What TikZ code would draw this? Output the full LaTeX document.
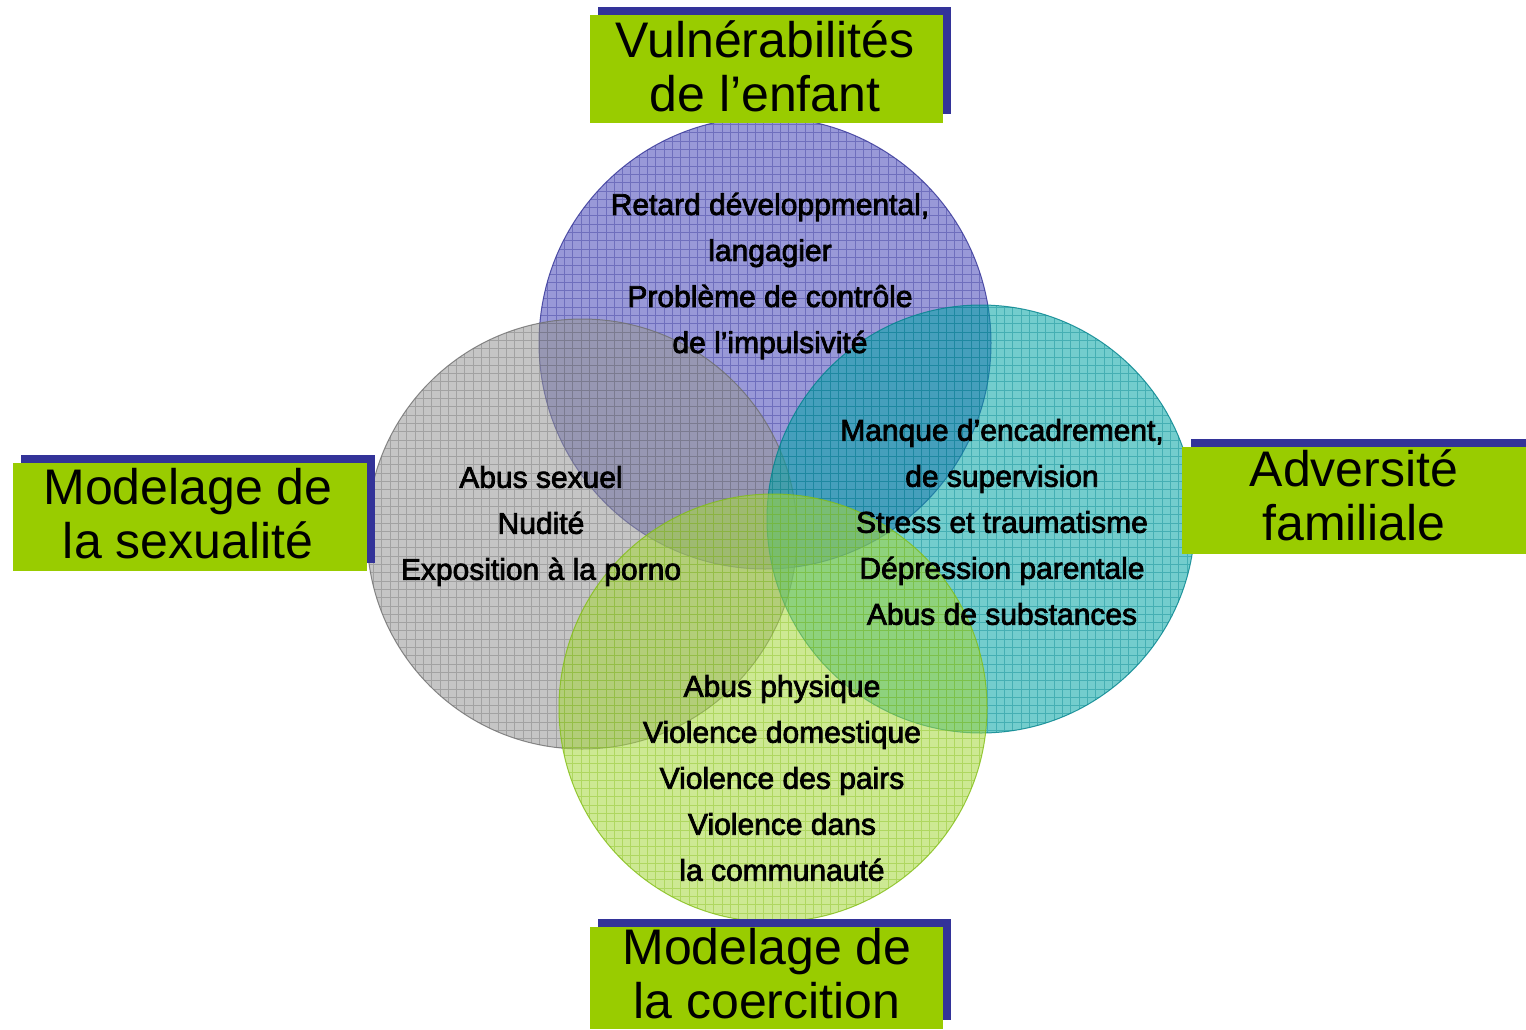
\documentclass[tikz,border=0pt]{standalone}
\usepackage{fontspec}
\setmainfont{Liberation Sans}
\newfontfamily\bodyfont[FakeBold=2.5]{Liberation Sans}
\definecolor{shadowblue}{RGB}{51,51,153}
\definecolor{boxgreen}{RGB}{153,204,0}
\definecolor{cpurple}{RGB}{70,70,185}
\definecolor{cgray}{RGB}{150,150,150}
\definecolor{cteal}{RGB}{0,165,165}
\definecolor{cgreen}{RGB}{165,215,60}
\definecolor{gpurple}{RGB}{50,50,150}
\definecolor{ggray}{RGB}{110,110,110}
\definecolor{gteal}{RGB}{0,130,140}
\definecolor{ggreen}{RGB}{130,190,20}
\tikzset{
  shadowrect/.style={fill=shadowblue, draw=none},
  greenrect/.style={fill=boxgreen, draw=none},
  titletext/.style={align=center, inner sep=0pt, font=\fontsize{50}{54}\selectfont},
  bodytext/.style={align=center, inner sep=0pt, font=\bodyfont\fontsize{30}{46}\selectfont},
}
\newcommand{\meshdisc}[5]{%
  \begin{scope}
    \clip (#1,#2) circle (#3);
    \fill[#4, opacity=0.55] (#1-#3,#2-#3) rectangle (#1+#3,#2+#3);
    \draw[#5, opacity=0.4, line width=0.8pt, step=8.3pt] (#1-#3-1,#2+#3+1) grid (#1+#3+1,#2-#3-1);
  \end{scope}
  \draw[#5, opacity=0.8, line width=1pt] (#1,#2) circle (#3);
}
\begin{document}
\begin{tikzpicture}[x=1pt,y=-1pt]
\useasboundingbox (0,0) rectangle (1526,1029);
\fill[white] (0,0) rectangle (1526,1029);
% circles
\meshdisc{765}{343}{226}{cpurple}{gpurple}
\meshdisc{582}{534}{215}{cgray}{ggray}
\meshdisc{981}{519}{214}{cteal}{gteal}
\meshdisc{773}{708}{214}{cgreen}{ggreen}
% body texts
\node[bodytext] (tvuln) at (770,276) {Retard développmental,\\langagier\\Problème de contrôle\\de l’impulsivité};
\node[bodytext] (tadv) at (1002,522) {Manque d’encadrement,\\de supervision\\Stress et traumatisme\\Dépression parentale\\Abus de substances};
\node[bodytext] (tsex) at (541,526) {Abus sexuel\\Nudité\\Exposition à la porno};
\node[bodytext] (tcoer) at (782,778) {Abus physique\\Violence domestique\\Violence des pairs\\Violence dans\\la communauté};
% title boxes
\fill[shadowrect] (598,7) rectangle (951,114);
\fill[greenrect] (590,15) rectangle (943,123);
\node[titletext] (hvuln) at (765,66) {Vulnérabilités\\de l’enfant};
\fill[shadowrect] (21,455) rectangle (375,563);
\fill[greenrect] (13,463) rectangle (367,571);
\node[titletext] (hsex) at (188,514) {Modelage de\\la sexualité};
\fill[shadowrect] (1191,439) rectangle (1526,546);
\fill[greenrect] (1182,447) rectangle (1526,554);
\node[titletext] (hadv) at (1354,495) {Adversité\\familiale};
\fill[shadowrect] (598,919) rectangle (951,1020);
\fill[greenrect] (590,927) rectangle (943,1029);
\node[titletext] (hcoer) at (767,974) {Modelage de\\la coercition};
\end{tikzpicture}
\end{document}
